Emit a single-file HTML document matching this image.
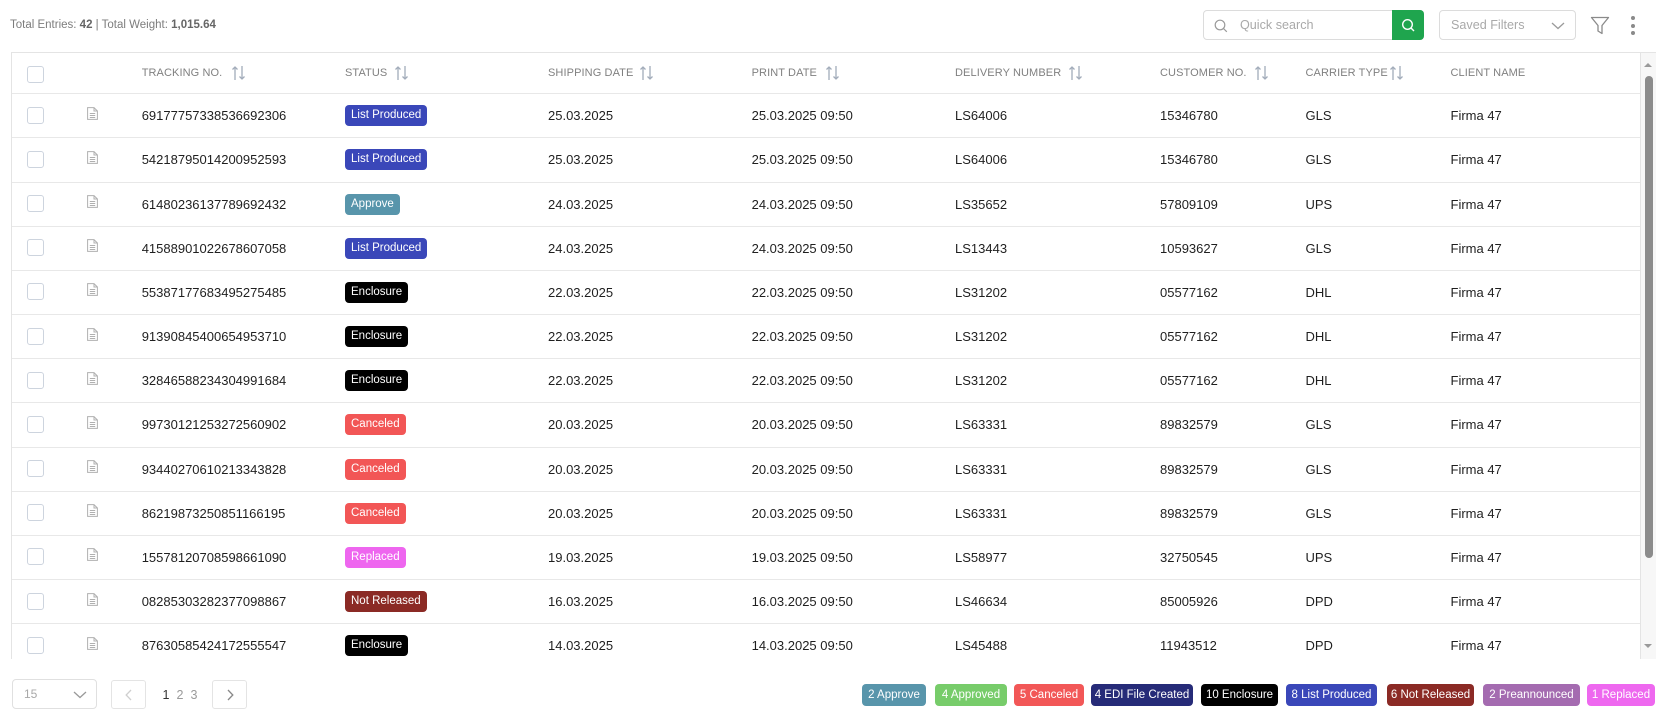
<!DOCTYPE html>
<html><head><meta charset="utf-8">
<style>
*{box-sizing:border-box;margin:0;padding:0}
html,body{width:1662px;height:718px;overflow:hidden;background:#fff;font-family:"Liberation Sans",Arial,sans-serif;color:#222}
.abs{position:absolute}
.top{left:10px;top:18px;font-size:11.5px;line-height:14px;color:#7d7d7d;white-space:nowrap}
.top b{color:#666}
.search{left:1203px;top:10px;width:221px;height:30px;border:1px solid #dcdcdc;border-radius:4px}
.search .ph{position:absolute;left:36px;top:0;line-height:28px;font-size:12.6px;color:#a9a9a9}
.gbtn{left:1392px;top:10px;width:32px;height:30px;background:#1fa54e;border-radius:0 4px 4px 0}
.saved{left:1439px;top:10px;width:137px;height:30px;border:1px solid #dcdcdc;border-radius:4px}
.saved .ph{position:absolute;left:11px;top:0;line-height:28px;font-size:12.6px;color:#a9a9a9}
.dot{width:4px;height:4px;border-radius:50%;background:#8a8a8a;left:1631px}
.tbl{left:11px;top:52px;width:1645px;height:607px;border-left:1px solid #e4e4e4;border-top:1px solid #e4e4e4;overflow:hidden}
.hdr{position:absolute;left:0;top:0;width:1628px;height:40.3px}
.hdr .h{position:absolute;top:0;line-height:40px;font-size:11px;color:#808080;white-space:nowrap;letter-spacing:0.1px}
.hdr svg{position:absolute;top:13px}
.row{position:absolute;left:0;width:1628px;height:44.17px;border-top:1px solid #e8e8e8}
.c{position:absolute;top:0;line-height:43px;font-size:13px;color:#1f1f1f;white-space:nowrap}
.cb{position:absolute;left:15px;top:12.4px;width:17px;height:17px;border:1px solid #cdd4de;border-radius:3px;background:#fff}
.doc{position:absolute;left:74.7px;top:12.4px}
.bd{position:absolute;left:333px;top:11px;height:21px;line-height:21px;padding:0 6px;font-size:11.5px;color:#fff;border-radius:4px;white-space:nowrap}
.lp{background:#3a47b9}.ap{background:#5895ab}.en{background:#000}.ca{background:#f25656}.re{background:#ee66ef}.nr{background:#8b2a25}
.vline{position:absolute;left:1628px;top:0;width:1px;height:607px;background:#e4e4e4}
.track{position:absolute;left:1629px;top:0;width:15px;height:607px;background:#f7f7f7}
.thumb{position:absolute;left:3.7px;top:23px;width:8px;height:482px;background:#8c8c8c;border-radius:4px}
.up{position:absolute;left:3.3px;top:10px;width:0;height:0;border-left:4px solid transparent;border-right:4px solid transparent;border-bottom:4px solid #9a9a9a}
.dn{position:absolute;left:3.3px;top:591px;width:0;height:0;border-left:4px solid transparent;border-right:4px solid transparent;border-top:4px solid #9a9a9a}
.psel{left:12px;top:679px;width:85px;height:30px;border:1px solid #e0e0e0;border-radius:4px}
.pbtn{top:680px;width:35px;height:29px;border:1px solid #e4e4e4;border-radius:3px}
.pn{top:687px;line-height:16px;font-size:12.5px}
.lg{top:684px;height:22px;line-height:22px;font-size:11.5px;color:#fff;border-radius:4px;text-align:center;white-space:nowrap;overflow:hidden}
</style></head><body>

<div class="abs top">Total Entries: <b>42</b> | Total Weight: <b>1,015.64</b></div>

<div class="abs search"><svg class="abs" style="left:10px;top:8px" width="14" height="14" viewBox="0 0 14 14"><circle cx="6" cy="6" r="4.8" fill="none" stroke="#9a9a9a" stroke-width="1.2"/><line x1="9.5" y1="9.5" x2="12.8" y2="12.8" stroke="#9a9a9a" stroke-width="1.2"/></svg><span class="ph">Quick search</span></div>
<div class="abs gbtn"><svg class="abs" style="left:9px;top:8px" width="14" height="14" viewBox="0 0 14 14"><circle cx="6.5" cy="6.5" r="4.8" fill="none" stroke="#fff" stroke-width="1.4"/><line x1="10" y1="10" x2="13" y2="13" stroke="#fff" stroke-width="1.4"/></svg></div>
<div class="abs saved"><span class="ph">Saved Filters</span><svg class="abs" style="left:111px;top:11px" width="14" height="8" viewBox="0 0 14 8"><polyline points="1,1 7,6.5 13,1" fill="none" stroke="#9a9a9a" stroke-width="1.3"/></svg></div>
<svg class="abs" style="left:1590px;top:16px" width="20" height="19" viewBox="0 0 20 19"><path d="M1.5 1.5 H18.5 L12 9.5 V17.5 L8 15 V9.5 Z" fill="none" stroke="#8a8a8a" stroke-width="1.3" stroke-linejoin="round"/></svg>
<div class="abs dot" style="top:16px"></div>
<div class="abs dot" style="top:23.5px"></div>
<div class="abs dot" style="top:31px"></div>

<div class="abs tbl">
  <div class="hdr">
    <div class="cb" style="top:13px"></div>
    <span class="h" style="left:129.7px">TRACKING NO.</span>
    <svg style="left:220px" width="14" height="14" viewBox="0 0 14 14"><g stroke="#a2acba" stroke-width="1.3" fill="none"><line x1="3" y1="1" x2="3" y2="14"/><polyline points="0.5,3.5 3,1 5.5,3.5"/><line x1="10" y1="0" x2="10" y2="13"/><polyline points="7.5,10.5 10,13 12.5,10.5"/></g></svg>
    <span class="h" style="left:333px">STATUS</span>
    <svg style="left:383px" width="14" height="14" viewBox="0 0 14 14"><g stroke="#a2acba" stroke-width="1.3" fill="none"><line x1="3" y1="1" x2="3" y2="14"/><polyline points="0.5,3.5 3,1 5.5,3.5"/><line x1="10" y1="0" x2="10" y2="13"/><polyline points="7.5,10.5 10,13 12.5,10.5"/></g></svg>
    <span class="h" style="left:536px">SHIPPING DATE</span>
    <svg style="left:628px" width="14" height="14" viewBox="0 0 14 14"><g stroke="#a2acba" stroke-width="1.3" fill="none"><line x1="3" y1="1" x2="3" y2="14"/><polyline points="0.5,3.5 3,1 5.5,3.5"/><line x1="10" y1="0" x2="10" y2="13"/><polyline points="7.5,10.5 10,13 12.5,10.5"/></g></svg>
    <span class="h" style="left:739.6px">PRINT DATE</span>
    <svg style="left:814px" width="14" height="14" viewBox="0 0 14 14"><g stroke="#a2acba" stroke-width="1.3" fill="none"><line x1="3" y1="1" x2="3" y2="14"/><polyline points="0.5,3.5 3,1 5.5,3.5"/><line x1="10" y1="0" x2="10" y2="13"/><polyline points="7.5,10.5 10,13 12.5,10.5"/></g></svg>
    <span class="h" style="left:943px">DELIVERY NUMBER</span>
    <svg style="left:1057px" width="14" height="14" viewBox="0 0 14 14"><g stroke="#a2acba" stroke-width="1.3" fill="none"><line x1="3" y1="1" x2="3" y2="14"/><polyline points="0.5,3.5 3,1 5.5,3.5"/><line x1="10" y1="0" x2="10" y2="13"/><polyline points="7.5,10.5 10,13 12.5,10.5"/></g></svg>
    <span class="h" style="left:1148px">CUSTOMER NO.</span>
    <svg style="left:1243px" width="14" height="14" viewBox="0 0 14 14"><g stroke="#a2acba" stroke-width="1.3" fill="none"><line x1="3" y1="1" x2="3" y2="14"/><polyline points="0.5,3.5 3,1 5.5,3.5"/><line x1="10" y1="0" x2="10" y2="13"/><polyline points="7.5,10.5 10,13 12.5,10.5"/></g></svg>
    <span class="h" style="left:1293.5px">CARRIER TYPE</span>
    <svg style="left:1378px" width="14" height="14" viewBox="0 0 14 14"><g stroke="#a2acba" stroke-width="1.3" fill="none"><line x1="3" y1="1" x2="3" y2="14"/><polyline points="0.5,3.5 3,1 5.5,3.5"/><line x1="10" y1="0" x2="10" y2="13"/><polyline points="7.5,10.5 10,13 12.5,10.5"/></g></svg>
    <span class="h" style="left:1438.5px">CLIENT NAME</span>
  </div>

  <div class="row" style="top:40.3px"><div class="cb"></div><svg class="doc" width="11" height="13" viewBox="0 0 11 13"><path d="M0.6 0.6 H7 L10.4 4 V12.4 H0.6 Z M7 0.6 V4 H10.4" fill="none" stroke="#b0b0b0" stroke-width="1"/><path d="M2.8 6.5 H8.2 M2.8 8.5 H8.2 M2.8 10.5 H8.2" stroke="#b0b0b0" stroke-width="0.9"/></svg><span class="c" style="left:129.7px">69177757338536692306</span><span class="bd lp">List Produced</span><span class="c" style="left:536px">25.03.2025</span><span class="c" style="left:739.6px">25.03.2025 09:50</span><span class="c" style="left:943px">LS64006</span><span class="c" style="left:1148px">15346780</span><span class="c" style="left:1293.5px">GLS</span><span class="c" style="left:1438.5px">Firma 47</span></div>

  <div class="row" style="top:84.47px"><div class="cb"></div><svg class="doc" width="11" height="13" viewBox="0 0 11 13"><path d="M0.6 0.6 H7 L10.4 4 V12.4 H0.6 Z M7 0.6 V4 H10.4" fill="none" stroke="#b0b0b0" stroke-width="1"/><path d="M2.8 6.5 H8.2 M2.8 8.5 H8.2 M2.8 10.5 H8.2" stroke="#b0b0b0" stroke-width="0.9"/></svg><span class="c" style="left:129.7px">54218795014200952593</span><span class="bd lp">List Produced</span><span class="c" style="left:536px">25.03.2025</span><span class="c" style="left:739.6px">25.03.2025 09:50</span><span class="c" style="left:943px">LS64006</span><span class="c" style="left:1148px">15346780</span><span class="c" style="left:1293.5px">GLS</span><span class="c" style="left:1438.5px">Firma 47</span></div>

  <div class="row" style="top:128.64px"><div class="cb"></div><svg class="doc" width="11" height="13" viewBox="0 0 11 13"><path d="M0.6 0.6 H7 L10.4 4 V12.4 H0.6 Z M7 0.6 V4 H10.4" fill="none" stroke="#b0b0b0" stroke-width="1"/><path d="M2.8 6.5 H8.2 M2.8 8.5 H8.2 M2.8 10.5 H8.2" stroke="#b0b0b0" stroke-width="0.9"/></svg><span class="c" style="left:129.7px">61480236137789692432</span><span class="bd ap">Approve</span><span class="c" style="left:536px">24.03.2025</span><span class="c" style="left:739.6px">24.03.2025 09:50</span><span class="c" style="left:943px">LS35652</span><span class="c" style="left:1148px">57809109</span><span class="c" style="left:1293.5px">UPS</span><span class="c" style="left:1438.5px">Firma 47</span></div>

  <div class="row" style="top:172.81px"><div class="cb"></div><svg class="doc" width="11" height="13" viewBox="0 0 11 13"><path d="M0.6 0.6 H7 L10.4 4 V12.4 H0.6 Z M7 0.6 V4 H10.4" fill="none" stroke="#b0b0b0" stroke-width="1"/><path d="M2.8 6.5 H8.2 M2.8 8.5 H8.2 M2.8 10.5 H8.2" stroke="#b0b0b0" stroke-width="0.9"/></svg><span class="c" style="left:129.7px">41588901022678607058</span><span class="bd lp">List Produced</span><span class="c" style="left:536px">24.03.2025</span><span class="c" style="left:739.6px">24.03.2025 09:50</span><span class="c" style="left:943px">LS13443</span><span class="c" style="left:1148px">10593627</span><span class="c" style="left:1293.5px">GLS</span><span class="c" style="left:1438.5px">Firma 47</span></div>

  <div class="row" style="top:216.98px"><div class="cb"></div><svg class="doc" width="11" height="13" viewBox="0 0 11 13"><path d="M0.6 0.6 H7 L10.4 4 V12.4 H0.6 Z M7 0.6 V4 H10.4" fill="none" stroke="#b0b0b0" stroke-width="1"/><path d="M2.8 6.5 H8.2 M2.8 8.5 H8.2 M2.8 10.5 H8.2" stroke="#b0b0b0" stroke-width="0.9"/></svg><span class="c" style="left:129.7px">55387177683495275485</span><span class="bd en">Enclosure</span><span class="c" style="left:536px">22.03.2025</span><span class="c" style="left:739.6px">22.03.2025 09:50</span><span class="c" style="left:943px">LS31202</span><span class="c" style="left:1148px">05577162</span><span class="c" style="left:1293.5px">DHL</span><span class="c" style="left:1438.5px">Firma 47</span></div>

  <div class="row" style="top:261.15px"><div class="cb"></div><svg class="doc" width="11" height="13" viewBox="0 0 11 13"><path d="M0.6 0.6 H7 L10.4 4 V12.4 H0.6 Z M7 0.6 V4 H10.4" fill="none" stroke="#b0b0b0" stroke-width="1"/><path d="M2.8 6.5 H8.2 M2.8 8.5 H8.2 M2.8 10.5 H8.2" stroke="#b0b0b0" stroke-width="0.9"/></svg><span class="c" style="left:129.7px">91390845400654953710</span><span class="bd en">Enclosure</span><span class="c" style="left:536px">22.03.2025</span><span class="c" style="left:739.6px">22.03.2025 09:50</span><span class="c" style="left:943px">LS31202</span><span class="c" style="left:1148px">05577162</span><span class="c" style="left:1293.5px">DHL</span><span class="c" style="left:1438.5px">Firma 47</span></div>

  <div class="row" style="top:305.32px"><div class="cb"></div><svg class="doc" width="11" height="13" viewBox="0 0 11 13"><path d="M0.6 0.6 H7 L10.4 4 V12.4 H0.6 Z M7 0.6 V4 H10.4" fill="none" stroke="#b0b0b0" stroke-width="1"/><path d="M2.8 6.5 H8.2 M2.8 8.5 H8.2 M2.8 10.5 H8.2" stroke="#b0b0b0" stroke-width="0.9"/></svg><span class="c" style="left:129.7px">32846588234304991684</span><span class="bd en">Enclosure</span><span class="c" style="left:536px">22.03.2025</span><span class="c" style="left:739.6px">22.03.2025 09:50</span><span class="c" style="left:943px">LS31202</span><span class="c" style="left:1148px">05577162</span><span class="c" style="left:1293.5px">DHL</span><span class="c" style="left:1438.5px">Firma 47</span></div>

  <div class="row" style="top:349.49px"><div class="cb"></div><svg class="doc" width="11" height="13" viewBox="0 0 11 13"><path d="M0.6 0.6 H7 L10.4 4 V12.4 H0.6 Z M7 0.6 V4 H10.4" fill="none" stroke="#b0b0b0" stroke-width="1"/><path d="M2.8 6.5 H8.2 M2.8 8.5 H8.2 M2.8 10.5 H8.2" stroke="#b0b0b0" stroke-width="0.9"/></svg><span class="c" style="left:129.7px">99730121253272560902</span><span class="bd ca">Canceled</span><span class="c" style="left:536px">20.03.2025</span><span class="c" style="left:739.6px">20.03.2025 09:50</span><span class="c" style="left:943px">LS63331</span><span class="c" style="left:1148px">89832579</span><span class="c" style="left:1293.5px">GLS</span><span class="c" style="left:1438.5px">Firma 47</span></div>

  <div class="row" style="top:393.66px"><div class="cb"></div><svg class="doc" width="11" height="13" viewBox="0 0 11 13"><path d="M0.6 0.6 H7 L10.4 4 V12.4 H0.6 Z M7 0.6 V4 H10.4" fill="none" stroke="#b0b0b0" stroke-width="1"/><path d="M2.8 6.5 H8.2 M2.8 8.5 H8.2 M2.8 10.5 H8.2" stroke="#b0b0b0" stroke-width="0.9"/></svg><span class="c" style="left:129.7px">93440270610213343828</span><span class="bd ca">Canceled</span><span class="c" style="left:536px">20.03.2025</span><span class="c" style="left:739.6px">20.03.2025 09:50</span><span class="c" style="left:943px">LS63331</span><span class="c" style="left:1148px">89832579</span><span class="c" style="left:1293.5px">GLS</span><span class="c" style="left:1438.5px">Firma 47</span></div>

  <div class="row" style="top:437.83px"><div class="cb"></div><svg class="doc" width="11" height="13" viewBox="0 0 11 13"><path d="M0.6 0.6 H7 L10.4 4 V12.4 H0.6 Z M7 0.6 V4 H10.4" fill="none" stroke="#b0b0b0" stroke-width="1"/><path d="M2.8 6.5 H8.2 M2.8 8.5 H8.2 M2.8 10.5 H8.2" stroke="#b0b0b0" stroke-width="0.9"/></svg><span class="c" style="left:129.7px">86219873250851166195</span><span class="bd ca">Canceled</span><span class="c" style="left:536px">20.03.2025</span><span class="c" style="left:739.6px">20.03.2025 09:50</span><span class="c" style="left:943px">LS63331</span><span class="c" style="left:1148px">89832579</span><span class="c" style="left:1293.5px">GLS</span><span class="c" style="left:1438.5px">Firma 47</span></div>

  <div class="row" style="top:482px"><div class="cb"></div><svg class="doc" width="11" height="13" viewBox="0 0 11 13"><path d="M0.6 0.6 H7 L10.4 4 V12.4 H0.6 Z M7 0.6 V4 H10.4" fill="none" stroke="#b0b0b0" stroke-width="1"/><path d="M2.8 6.5 H8.2 M2.8 8.5 H8.2 M2.8 10.5 H8.2" stroke="#b0b0b0" stroke-width="0.9"/></svg><span class="c" style="left:129.7px">15578120708598661090</span><span class="bd re">Replaced</span><span class="c" style="left:536px">19.03.2025</span><span class="c" style="left:739.6px">19.03.2025 09:50</span><span class="c" style="left:943px">LS58977</span><span class="c" style="left:1148px">32750545</span><span class="c" style="left:1293.5px">UPS</span><span class="c" style="left:1438.5px">Firma 47</span></div>

  <div class="row" style="top:526.17px"><div class="cb"></div><svg class="doc" width="11" height="13" viewBox="0 0 11 13"><path d="M0.6 0.6 H7 L10.4 4 V12.4 H0.6 Z M7 0.6 V4 H10.4" fill="none" stroke="#b0b0b0" stroke-width="1"/><path d="M2.8 6.5 H8.2 M2.8 8.5 H8.2 M2.8 10.5 H8.2" stroke="#b0b0b0" stroke-width="0.9"/></svg><span class="c" style="left:129.7px">08285303282377098867</span><span class="bd nr">Not Released</span><span class="c" style="left:536px">16.03.2025</span><span class="c" style="left:739.6px">16.03.2025 09:50</span><span class="c" style="left:943px">LS46634</span><span class="c" style="left:1148px">85005926</span><span class="c" style="left:1293.5px">DPD</span><span class="c" style="left:1438.5px">Firma 47</span></div>

  <div class="row" style="top:570.34px"><div class="cb"></div><svg class="doc" width="11" height="13" viewBox="0 0 11 13"><path d="M0.6 0.6 H7 L10.4 4 V12.4 H0.6 Z M7 0.6 V4 H10.4" fill="none" stroke="#b0b0b0" stroke-width="1"/><path d="M2.8 6.5 H8.2 M2.8 8.5 H8.2 M2.8 10.5 H8.2" stroke="#b0b0b0" stroke-width="0.9"/></svg><span class="c" style="left:129.7px">87630585424172555547</span><span class="bd en">Enclosure</span><span class="c" style="left:536px">14.03.2025</span><span class="c" style="left:739.6px">14.03.2025 09:50</span><span class="c" style="left:943px">LS45488</span><span class="c" style="left:1148px">11943512</span><span class="c" style="left:1293.5px">DPD</span><span class="c" style="left:1438.5px">Firma 47</span></div>

  <div class="vline"></div>
  <div class="track"><div class="up"></div><div class="thumb"></div><div class="dn"></div></div>
</div>

<div class="abs psel"><span class="abs" style="left:11px;top:0;line-height:28px;font-size:12px;color:#a8a8a8">15</span><svg class="abs" style="left:60px;top:11px" width="14" height="8" viewBox="0 0 14 8"><polyline points="1,1 7,6.5 13,1" fill="none" stroke="#999" stroke-width="1.3"/></svg></div>
<div class="abs pbtn" style="left:111px"><svg class="abs" style="left:13px;top:8px" width="7" height="12" viewBox="0 0 7 12"><polyline points="6,1 1.2,6 6,11" fill="none" stroke="#cfcfcf" stroke-width="1.3"/></svg></div>
<span class="abs pn" style="left:162.5px;color:#333">1</span>
<span class="abs pn" style="left:176.5px;color:#9a9a9a">2</span>
<span class="abs pn" style="left:190.5px;color:#9a9a9a">3</span>
<div class="abs pbtn" style="left:212px"><svg class="abs" style="left:14px;top:8px" width="7" height="12" viewBox="0 0 7 12"><polyline points="1,1 5.8,6 1,11" fill="none" stroke="#888" stroke-width="1.3"/></svg></div>

<div class="abs lg" style="left:862px;width:64px;background:#5895ab">2 Approve</div>
<div class="abs lg" style="left:935px;width:72px;background:#77cc6a">4 Approved</div>
<div class="abs lg" style="left:1014px;width:70px;background:#f25757">5 Canceled</div>
<div class="abs lg" style="left:1091px;width:102px;background:#262b78">4 EDI File Created</div>
<div class="abs lg" style="left:1201px;width:77px;background:#000">10 Enclosure</div>
<div class="abs lg" style="left:1286px;width:91px;background:#3a47b9">8 List Produced</div>
<div class="abs lg" style="left:1387px;width:87px;background:#8b2a25">6 Not Released</div>
<div class="abs lg" style="left:1483px;width:97px;background:#a46bb0">2 Preannounced</div>
<div class="abs lg" style="left:1587px;width:68px;background:#ee68ef">1 Replaced</div>

</body></html>
